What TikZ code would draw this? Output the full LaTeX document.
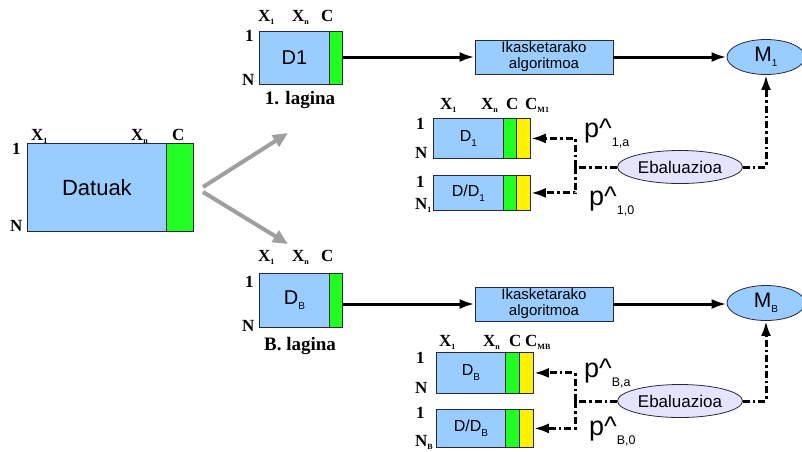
\documentclass[tikz,border=0pt]{standalone}
\usepackage{fontspec}
\setmainfont{Liberation Serif}
\setsansfont{Liberation Sans}
\usetikzlibrary{shapes.geometric,arrows.meta}

\definecolor{skyb}{RGB}{153,204,255}
\definecolor{leaf}{RGB}{34,255,34}
\definecolor{lav}{RGB}{228,228,255}
\definecolor{edge}{RGB}{40,40,60}

% small lowered indices for column/row labels, box texts and estimates
\newcommand\idx[1]{\raisebox{-3pt}{\fontsize{8}{8}\selectfont #1}}
\newcommand\sidx[1]{\raisebox{-5pt}{\fontsize{10}{10}\selectfont #1}}
\newcommand\pidx[1]{\raisebox{-9pt}{\fontsize{12.5}{12.5}\selectfont #1}}

\tikzset{
  cell/.style={draw=edge, line width=0.8pt, inner sep=0pt, anchor=north west},
  blu/.style={cell, fill=skyb},
  grn/.style={cell, fill=leaf},
  yel/.style={cell, fill=yellow},
  lbl/.style={font=\bfseries\fontsize{17}{17}\selectfont, inner sep=0pt, anchor=base west},
  alg/.style={draw=edge, line width=0.8pt, fill=skyb, minimum width=138pt, minimum height=34pt,
    align=center, inner sep=0pt, font=\sffamily\fontsize{15}{16}\selectfont},
  model/.style={ellipse, draw=edge, line width=0.8pt, fill=skyb, minimum width=78pt, minimum height=35pt,
    inner sep=0pt, font=\sffamily\fontsize{21}{21}\selectfont},
  evalu/.style={ellipse, draw=edge, line width=0.8pt, fill=lav, minimum width=125pt, minimum height=33pt,
    inner sep=0pt, font=\sffamily\fontsize{17}{17}\selectfont},
  phat/.style={font=\sffamily\fontsize{27}{27}\selectfont, inner sep=0pt, anchor=base west},
  flow/.style={line width=3pt, -{Latex[length=15pt,width=10pt]}},
  fbline/.style={line width=3pt, dash pattern=on 7pt off 3pt on 2.5pt off 3pt},
  fb/.style={fbline, -{Latex[length=15pt,width=10pt]}},
  split/.style={line width=4pt, draw=gray!75, -{Triangle[length=15pt,width=13pt]}, color=gray!75}
}

\begin{document}
\begin{tikzpicture}[x=1pt,y=-1pt]
\useasboundingbox (0,0) rectangle (802,451);

% ---------- full data set ----------
\node[blu, minimum width=139pt, minimum height=88pt, font=\sffamily\fontsize{22}{22}\selectfont] (dat) at (27,143) {Datuak};
\node[grn, minimum width=27pt, minimum height=88pt] (datc) at (166,143) {};
\node[lbl] (datx1) at (31,140) {X\idx{1}};
\node[lbl] (datxn) at (131,140) {X\idx{n}};
\node[lbl] (datcl) at (172,140) {C};
\node[lbl] (dat1) at (12,154) {1};
\node[lbl] (datn) at (10,231) {N};

% ---------- splitting arrows ----------
\coordinate (s0a) at (203,187);
\coordinate (s0b) at (203,192);
\coordinate (s1) at (288,133);
\coordinate (s2) at (288,244);
\draw[split] (s0a) -- (s1);
\draw[split] (s0b) -- (s2);

% ---------- sample 1 ----------
\node[blu, minimum width=70pt, minimum height=53pt, font=\sffamily\fontsize{20}{20}\selectfont] (d1) at (259,31) {D1};
\node[grn, minimum width=13pt, minimum height=53pt] (d1c) at (329,31) {};
\node[lbl] (d1x1) at (258,21) {X\idx{1}};
\node[lbl] (d1xn) at (292,21) {X\idx{n}};
\node[lbl] (d1cl) at (321,21) {C};
\node[lbl] (d11) at (245,41) {1};
\node[lbl] (d1n) at (242,85) {N};
\node[lbl, anchor=base, font=\bfseries\fontsize{19}{19}\selectfont] (d1name) at (300,104) {1. lagina};

\node[alg] (alg1) at (544,57) {Ikasketarako\\algoritmoa};
\node[model] (m1) at (766,57) {M\sidx{1}};
\draw[flow] (d1c.east |- alg1.west) -- (alg1.west);
\draw[flow] (alg1.east) -- (m1.west);

% evaluation sets of sample 1
\node[blu, minimum width=70pt, minimum height=40pt, font=\sffamily\fontsize{16}{16}\selectfont] (t1a) at (433,118) {D\sidx{1}};
\node[grn, minimum width=13pt, minimum height=40pt] (g1a) at (503,118) {};
\node[yel, minimum width=14pt, minimum height=40pt] (y1a) at (516,118) {};
\node[blu, minimum width=70pt, minimum height=35pt, font=\sffamily\fontsize{16}{16}\selectfont] (t1b) at (433,175) {D/D\sidx{1}};
\node[grn, minimum width=13pt, minimum height=35pt] (g1b) at (503,175) {};
\node[yel, minimum width=14pt, minimum height=35pt] (y1b) at (516,175) {};
\node[lbl] (t1x1) at (440,109) {X\idx{1}};
\node[lbl] (t1xn) at (481,109) {X\idx{n}};
\node[lbl] (t1cl) at (506,109) {C};
\node[lbl] (t1cm) at (525,109) {C\idx{\bfseries M1}};
\node[lbl] (t1r1) at (416,129) {1};
\node[lbl] (t1rn) at (415,158) {N};
\node[lbl] (t1r1b) at (416,187) {1};
\node[lbl] (t1rnb) at (415,209) {N\idx{1}};

\node[evalu] (ev1) at (680,167) {Ebaluazioa};
\coordinate (j1) at (575,167);
\draw[fbline] (ev1.west) -- (j1);
\draw[fb] (j1) |- (y1a.east);
\draw[fb] (j1) |- (y1b.east);
\draw[fb] (ev1.east) -| (m1.south);
\node[phat] (p1a) at (584,137) {p\textasciicircum\pidx{1,a}};
\node[phat] (p10) at (589,205) {p\textasciicircum\pidx{1,0}};

% ---------- sample B ----------
\node[blu, minimum width=70pt, minimum height=54pt, font=\sffamily\fontsize{20}{20}\selectfont] (db) at (259,273) {D\sidx{B}};
\node[grn, minimum width=13pt, minimum height=54pt] (dbc) at (329,273) {};
\node[lbl] (dbx1) at (258,261) {X\idx{1}};
\node[lbl] (dbxn) at (292,261) {X\idx{n}};
\node[lbl] (dbcl) at (321,261) {C};
\node[lbl] (db1) at (245,287) {1};
\node[lbl] (dbn) at (242,331) {N};
\node[lbl, anchor=base, font=\bfseries\fontsize{19}{19}\selectfont] (dbname) at (300,350) {B. lagina};

\node[alg] (algb) at (544,304) {Ikasketarako\\algoritmoa};
\node[model] (mb) at (766,303) {M\sidx{B}};
\draw[flow] (dbc.east |- algb.west) -- (algb.west);
\draw[flow] (algb.east) -- (mb.west |- algb.east);

% evaluation sets of sample B
\node[blu, minimum width=69pt, minimum height=41pt, font=\sffamily\fontsize{16}{16}\selectfont] (tba) at (436,352) {D\sidx{B}};
\node[grn, minimum width=14pt, minimum height=41pt] (gba) at (505,352) {};
\node[yel, minimum width=14pt, minimum height=41pt] (yba) at (519,352) {};
\node[blu, minimum width=69pt, minimum height=38pt, font=\sffamily\fontsize{16}{16}\selectfont] (tbb) at (436,409) {D/D\sidx{B}};
\node[grn, minimum width=14pt, minimum height=38pt] (gbb) at (505,409) {};
\node[yel, minimum width=14pt, minimum height=38pt] (ybb) at (519,409) {};
\node[lbl] (tbx1) at (439,346) {X\idx{1}};
\node[lbl] (tbxn) at (483,346) {X\idx{n}};
\node[lbl] (tbcl) at (509,346) {C};
\node[lbl] (tbcm) at (525,346) {C\idx{\bfseries MB}};
\node[lbl] (tbr1) at (416,363) {1};
\node[lbl] (tbrn) at (415,393) {N};
\node[lbl] (tbr1b) at (416,418) {1};
\node[lbl] (tbrnb) at (415,446) {N\idx{B}};

\node[evalu] (evb) at (680,401) {Ebaluazioa};
\coordinate (jb) at (575,401);
\draw[fbline] (evb.west) -- (jb);
\draw[fb] (jb) |- (yba.east);
\draw[fb] (jb) |- (ybb.east);
\draw[fb] (evb.east) -| (mb.south);
\node[phat] (pba) at (584,377) {p\textasciicircum\pidx{B,a}};
\node[phat] (pb0) at (589,435) {p\textasciicircum\pidx{B,0}};

\end{tikzpicture}
\end{document}
